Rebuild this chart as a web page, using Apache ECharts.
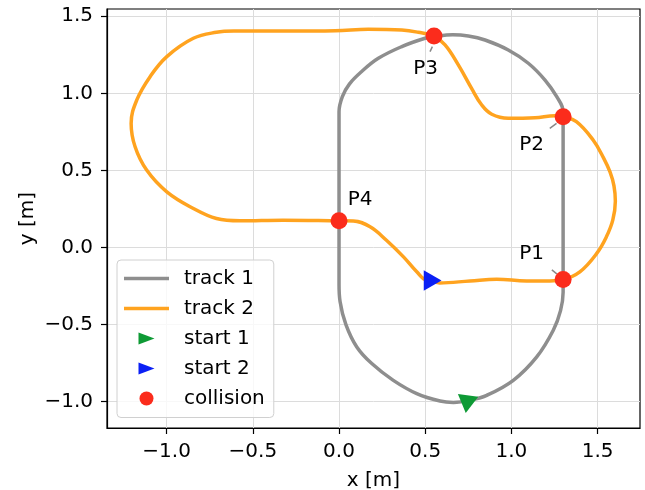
<!DOCTYPE html>
<html>
<head>
<meta charset="utf-8">
<script src="https://cdn.jsdelivr.net/npm/echarts@6/dist/echarts.min.js"></script>
<style>html,body{margin:0;padding:0;background:#fff}#c{width:645px;height:490px}</style>
</head>
<body>
<div id="c"></div>
<script>
// ---- data ----
const track1X = [0.76, 0.857, 1.011, 1.147, 1.243, 1.285, 1.30, 1.30, 1.30, 1.30, 1.30, 1.263, 1.195, 1.098, 0.982, 0.847, 0.75, 0.66, 0.551, 0.499, 0.364, 0.228, 0.13, 0.06, 0.02, 0.0, 0.0, 0.0, 0.0, 0.0, 0.006, 0.04, 0.103, 0.19, 0.315, 0.451, 0.586, 0.663, 0.76];
const track1Y = [-0.99, -0.959, -0.862, -0.71, -0.537, -0.41, -0.29, -0.05, 0.3, 0.65, 0.88, 0.978, 1.086, 1.195, 1.281, 1.346, 1.372, 1.38, 1.368, 1.357, 1.303, 1.227, 1.14, 1.06, 0.98, 0.88, 0.55, 0.2, -0.1, -0.24, -0.35, -0.5, -0.645, -0.753, -0.862, -0.948, -0.996, -1.005, -0.99];

const track2X = [0.543, 0.584, 0.76, 0.915, 1.088, 1.223, 1.30, 1.397, 1.494, 1.551, 1.588, 1.603, 1.595, 1.572, 1.535, 1.474, 1.377, 1.30, 1.253, 1.137, 0.982, 0.886, 0.828, 0.769, 0.692, 0.615, 0.547, 0.46, 0.364, 0.17, -0.023, -0.3, -0.61, -0.711, -0.845, -0.999, -1.096, -1.173, -1.206, -1.183, -1.116, -0.999, -0.845, -0.711, -0.575, -0.325, 0.0, 0.083, 0.18, 0.275, 0.374, 0.451, 0.509, 0.543];
const track2Y = [-0.214, -0.23, -0.217, -0.206, -0.217, -0.217, -0.208, -0.158, -0.04, 0.069, 0.177, 0.30, 0.40, 0.49, 0.58, 0.697, 0.816, 0.848, 0.855, 0.842, 0.838, 0.864, 0.924, 1.032, 1.184, 1.314, 1.372, 1.396, 1.411, 1.416, 1.406, 1.404, 1.404, 1.396, 1.357, 1.238, 1.108, 0.957, 0.805, 0.653, 0.502, 0.361, 0.253, 0.188, 0.173, 0.177, 0.173, 0.172, 0.134, 0.047, -0.061, -0.158, -0.212, -0.214];

const start1 = [0.76, -0.99];
const start2 = [0.543, -0.214];
const start1Heading = 22.6;   // direction of travel, degrees
const start2Heading = 0;

const collisionX = [1.30, 1.30, 0.551, 0.0];
const collisionY = [-0.208, 0.848, 1.372, 0.173];
const collisionNames = ['P1', 'P2', 'P3', 'P4'];

const seriesNames = ['track 1', 'track 2', 'start 1', 'start 2', 'collision'];
const xTicks = [-1.0, -0.5, 0.0, 0.5, 1.0, 1.5];
const yTicks = [-1.0, -0.5, 0.0, 0.5, 1.0, 1.5];
const xLimits = [-1.346, 1.746];
const yLimits = [-1.171, 1.547];

// ---- styling ----
const FONT = 'DejaVu Sans';
const FS = 20;
const GRAY = '#8e8e8e', ORANGE = '#ffa31f', GREEN = '#0e9a35', BLUE = '#0b20f5', RED = '#fb2c1c';
// annotation text offsets (px) and short connector strokes (offset px, length px, angle deg)
const labelOffsets = [[-31.5, -25.5], [-31.6, 28.5], [-8.3, 32.5], [21, -21]];
const connectors = [
  { off: [-8.8, -7.7], len: 6.4, ang: -38.7 },
  { off: [-9.95, 9.1], len: 8.4, ang: 36.7 },
  { off: [-2.8, 13.2], len: 5.5, ang: 64.4 },
  null
];
const zip = (xs, ys) => xs.map((x, i) => [x, ys[i]]);
const fmt = v => (v < 0 ? '\u2212' : '') + Math.abs(v).toFixed(1);

const LINE_ICON = 'path://M0,0 L45,0 L45,3.5 L0,3.5 Z';
const TRI_ICON = 'path://M0,-1 M0,0 L16,6 L0,12 Z M0,13';

const axisCommon = {
  type: 'value',
  axisLine: { show: true, onZero: false, lineStyle: { color: '#000', width: 1.2 } },
  splitLine: { show: true, lineStyle: { color: '#dcdcdc', width: 1 } },
  nameLocation: 'middle',
  nameMoveOverlap: false,
  nameTextStyle: { fontSize: FS, fontFamily: FONT, color: '#000' }
};

const connectorData = [];
collisionX.forEach((x, i) => {
  const c = connectors[i];
  if (!c) return;
  connectorData.push({ value: [x, collisionY[i]], symbolOffset: c.off, symbolSize: [c.len, 1.5], symbolRotate: c.ang });
});

const chart = echarts.init(document.getElementById('c'), null, { renderer: 'canvas' });
chart.setOption({
  animation: false,
  backgroundColor: '#fff',
  grid: { left: 107, right: 5, top: 9, bottom: 62, show: true, borderColor: '#000', borderWidth: 1.2, backgroundColor: 'transparent', containLabel: false, outerBoundsMode: 'none' },
  xAxis: Object.assign({}, axisCommon, {
    min: xLimits[0], max: xLimits[1],
    name: 'x [m]', nameGap: 42.5,
    axisTick: { show: true, inside: false, length: 6, lineStyle: { color: '#000', width: 1.2 }, customValues: xTicks },
    axisLabel: { customValues: xTicks, formatter: fmt, fontSize: FS, fontFamily: FONT, color: '#000', margin: 13.5 }
  }),
  yAxis: Object.assign({}, axisCommon, {
    min: yLimits[0], max: yLimits[1],
    name: 'y [m]', nameGap: 69,
    axisTick: { show: true, inside: false, length: 6, lineStyle: { color: '#000', width: 1.2 }, customValues: yTicks },
    axisLabel: { customValues: yTicks, formatter: fmt, fontSize: FS, fontFamily: FONT, color: '#000', margin: 14, padding: [8, 0, 0, 0] }
  }),
  legend: {
    orient: 'vertical',
    left: 117, top: 260,
    padding: [8.5, 9, 9, 7],
    itemWidth: 45, itemHeight: 14, itemGap: 10,
    backgroundColor: 'rgba(255,255,255,0.8)',
    borderColor: '#d0d0d0', borderWidth: 1, borderRadius: 4,
    itemStyle: { borderWidth: 0 },
    textStyle: { fontSize: FS, fontFamily: FONT, color: '#000', lineHeight: 20, padding: [0, 0, 0, 10] },
    data: [
      { name: seriesNames[0], icon: LINE_ICON },
      { name: seriesNames[1], icon: LINE_ICON },
      { name: seriesNames[2], icon: TRI_ICON },
      { name: seriesNames[3], icon: TRI_ICON },
      { name: seriesNames[4], icon: 'circle' }
    ]
  },
  series: [
    {
      name: seriesNames[0], type: 'line', data: zip(track1X, track1Y),
      symbol: 'none', smooth: 0.4,
      lineStyle: { color: GRAY, width: 3.5 }, itemStyle: { color: GRAY }, z: 2
    },
    {
      name: seriesNames[1], type: 'line', data: zip(track2X, track2Y),
      symbol: 'none', smooth: 0.4,
      lineStyle: { color: ORANGE, width: 3.5 }, itemStyle: { color: ORANGE }, z: 3
    },
    {
      name: seriesNames[2], type: 'scatter',
      data: [{ value: start1, symbolRotate: start1Heading - 90 }],
      symbol: 'triangle', symbolSize: [20.5, 17.8],
      itemStyle: { color: GREEN, opacity: 1 }, z: 5
    },
    {
      name: seriesNames[3], type: 'scatter',
      data: [{ value: start2, symbolRotate: start2Heading - 90 }],
      symbol: 'triangle', symbolSize: [20.5, 17.8],
      itemStyle: { color: BLUE, opacity: 1 }, z: 5
    },
    {
      name: 'annotation connectors', type: 'scatter',
      data: connectorData, symbol: 'rect',
      itemStyle: { color: '#888', opacity: 1 }, z: 5, silent: true
    },
    {
      name: seriesNames[4], type: 'scatter',
      data: collisionX.map((x, i) => ({ value: [x, collisionY[i]], name: collisionNames[i] })),
      symbol: 'circle', symbolSize: 17,
      itemStyle: { color: RED, opacity: 1 }, z: 6,
      label: { show: true, position: 'inside', formatter: p => p.name, fontSize: FS, fontFamily: FONT, color: '#000' },
      labelLayout: p => ({ dx: labelOffsets[p.dataIndex][0], dy: labelOffsets[p.dataIndex][1] })
    }
  ]
});
</script>
</body>
</html>
